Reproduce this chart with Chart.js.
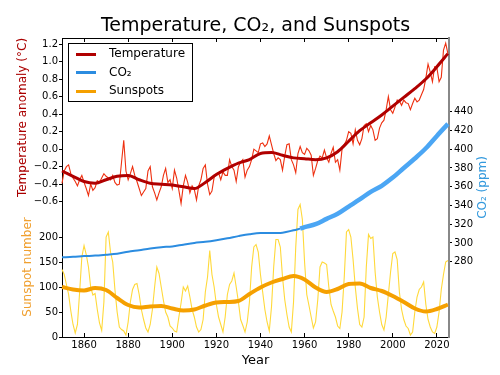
<!DOCTYPE html>
<html>
<head>
<meta charset="utf-8">
<script src="https://cdn.jsdelivr.net/npm/chart.js@4.4.1/dist/chart.umd.min.js"></script>
<style>
  html, body { margin: 0; padding: 0; background: #fff; }
  canvas { display: block; }
</style>
</head>
<body>
<canvas id="chart" width="500" height="375"></canvas>
<script>
// annual series start in 1850, one value per year
const firstYear = 1850;

// temperature anomaly (°C), 1850-2025
const tempAnomaly = [
  -0.39, -0.25, -0.20, -0.18, -0.28, -0.33, -0.37, -0.42, -0.35, -0.30,
  -0.38, -0.45, -0.53, -0.40, -0.47, -0.44, -0.36, -0.38, -0.33, -0.28,
  -0.31, -0.33, -0.35, -0.30, -0.38, -0.41, -0.40, -0.15, 0.10, -0.25,
  -0.35, -0.28, -0.20, -0.30, -0.37, -0.45, -0.53, -0.49, -0.45, -0.25,
  -0.20, -0.43, -0.50, -0.58, -0.50, -0.43, -0.30, -0.22, -0.38, -0.35,
  -0.45, -0.24, -0.33, -0.47, -0.62, -0.42, -0.30, -0.38, -0.50, -0.42,
  -0.46, -0.58, -0.42, -0.35, -0.22, -0.18, -0.40, -0.52, -0.48, -0.32,
  -0.28, -0.27, -0.35, -0.26, -0.30, -0.30, -0.12, -0.20, -0.24, -0.37,
  -0.20, -0.15, -0.12, -0.32, -0.24, -0.20, -0.12, 0.00, -0.02, -0.04,
  0.06, 0.07, 0.03, 0.06, 0.15, 0.05, -0.05, -0.13, -0.10, -0.12,
  -0.24, -0.08, 0.05, 0.06, -0.12, -0.18, -0.27, -0.05, 0.03, -0.04,
  -0.06, 0.01, -0.02, -0.07, -0.30, -0.22, -0.13, -0.08, -0.10, -0.01,
  -0.10, -0.15, -0.05, 0.02, -0.15, -0.12, -0.24, 0.00, 0.05, 0.10,
  0.20, 0.18, 0.06, 0.22, 0.10, 0.05, 0.12, 0.27, 0.29, 0.20,
  0.27, 0.22, 0.10, 0.12, 0.24, 0.30, 0.33, 0.45, 0.60, 0.45,
  0.41, 0.48, 0.56, 0.55, 0.50, 0.56, 0.53, 0.52, 0.45, 0.52,
  0.58, 0.54, 0.56, 0.62, 0.68, 0.81, 0.97, 0.88, 0.77, 0.94,
  0.93, 0.77, 0.82, 1.13, 1.21, 1.09
];

// yearly sunspot number, 1850-2025
const sunspots = [
  135, 125, 105, 85, 52, 25, 8, 25, 90, 160,
  183, 165, 140, 100, 84, 87, 55, 28, 13, 70,
  200, 210, 170, 150, 95, 50, 20, 15, 12, 4,
  30, 70, 95, 105, 107, 85, 55, 35, 18, 10,
  25, 55, 100, 140, 127, 100, 73, 50, 40, 22,
  18, 12, 10, 40, 68, 100, 92, 102, 80, 55,
  40, 20, 10, 15, 35, 90, 120, 173, 125, 100,
  65, 40, 25, 10, 40, 85, 105, 112, 128, 100,
  70, 35, 23, 10, 30, 70, 140, 180, 185, 170,
  125, 90, 55, 30, 12, 60, 140, 195, 195, 180,
  120, 75, 45, 20, 10, 70, 180, 255, 265, 235,
  150, 85, 63, 40, 18, 30, 75, 140, 150, 148,
  145, 100, 65, 52, 40, 22, 17, 50, 120, 210,
  215, 200, 155, 100, 57, 25, 20, 40, 140, 205,
  197, 200, 130, 80, 50, 25, 14, 40, 85, 130,
  167, 170, 155, 90, 55, 35, 22, 17, 4, 10,
  50, 80, 95, 100, 110, 65, 35, 20, 10, 7,
  20, 50, 95, 125, 150, 153
];

// smoothed curves, every 5 years
const smoothYears = [
  1850, 1855, 1860, 1865, 1870, 1875, 1880, 1885, 1890, 1895,
  1900, 1905, 1910, 1915, 1920, 1925, 1930, 1935, 1940, 1945,
  1950, 1955, 1960, 1965, 1970, 1975, 1980, 1985, 1990, 1995,
  2000, 2005, 2010, 2015, 2020, 2025
];
const tempSmooth = [
  -0.25, -0.31, -0.37, -0.39, -0.35, -0.31, -0.30, -0.35, -0.39, -0.40,
  -0.41, -0.43, -0.45, -0.38, -0.29, -0.22, -0.16, -0.12, -0.05, -0.04,
  -0.07, -0.10, -0.11, -0.12, -0.10, -0.03, 0.09, 0.21, 0.30, 0.39,
  0.49, 0.59, 0.69, 0.80, 0.94, 1.09
];
const sunSmooth = [
  100, 95, 93, 98, 94, 78, 64, 59, 61, 62,
  57, 53, 55, 63, 69, 70, 72, 86, 99, 109,
  116, 122, 115, 99, 90, 96, 106, 107, 98, 92,
  82, 70, 57, 51, 56, 65
];

// CO2 (ppm): ice core record, then Mauna Loa
const co2IceYears = [1850, 1855, 1860, 1865, 1870, 1875, 1880, 1885, 1890, 1895, 1900, 1905,
  1910, 1915, 1920, 1925, 1930, 1935, 1940, 1945, 1950, 1955, 1958];
const co2Ice = [284.7, 285.2, 286.0, 286.5, 287.5, 288.6, 290.6, 292.3, 294.1, 295.5, 296.3, 298.2,
  300.0, 301.3, 303.0, 305.0, 307.3, 309.3, 310.5, 310.5, 311.0, 313.5, 315.3];
const co2MaunaYears = [1958, 1960, 1965, 1970, 1975, 1980, 1985, 1990, 1995, 2000, 2005, 2010, 2015, 2020, 2025];
const co2Mauna = [315.3, 316.9, 320.0, 325.7, 331.1, 338.8, 346.4, 354.5, 361.0, 369.7, 380.0, 390.1, 401.0, 414.2, 427.0];

const yearTicks = [1860, 1880, 1900, 1920, 1940, 1960, 1980, 2000, 2020];
const tempTicks = [-0.6, -0.4, -0.2, 0.0, 0.2, 0.4, 0.6, 0.8, 1.0, 1.2];
const sunTicks = [0, 50, 100, 150, 200];
const co2Ticks = [280, 300, 320, 340, 360, 380, 400, 420, 440];

Chart.defaults.font.family = 'DejaVu Sans';
Chart.defaults.font.size = 10;
Chart.defaults.color = '#000';

function pairs(xs, ys) { return ys.map((y, i) => ({x: xs[i], y: y})); }
function annual(ys) { return ys.map((y, i) => ({x: firstYear + i, y: y})); }
function setTicks(list) { return axis => { axis.ticks = list.map(v => ({value: v})); }; }

// legend sample: a 20px line inside a 27px image, so the text sits further right
function swatch(color) {
  const c = document.createElement('canvas');
  c.width = 27; c.height = 3;
  const g = c.getContext('2d');
  g.fillStyle = color;
  g.fillRect(0, 0, 20, 3);
  return c;
}
const legendItems = [
  {text: 'Temperature', color: '#b00000'},
  {text: 'CO\u2082', color: '#2b8ce0'},
  {text: 'Sunspots', color: '#f5a000'}
];

const extras = {
  id: 'extras',
  afterLayout(chart) {
    const lg = chart.legend, ca = chart.chartArea;
    lg.left = ca.left + 7.5;
    lg.top = ca.top + 3.5;
  },
  afterDraw(chart) {
    const ctx = chart.ctx, lg = chart.legend, s = chart.scales.yC;
    ctx.save();
    ctx.strokeStyle = '#000';
    ctx.lineWidth = 1;
    ctx.strokeRect(Math.round(lg.left) - 1.5, Math.round(lg.top) + 1.5, 124, 58);
    // right axis title reads bottom to top
    ctx.translate(s.right - 17, (s.top + s.bottom) / 2);
    ctx.rotate(-Math.PI / 2);
    ctx.fillStyle = '#3399dd';
    ctx.font = '12px "DejaVu Sans"';
    ctx.textAlign = 'center';
    ctx.textBaseline = 'middle';
    ctx.fillText('CO\u2082 (ppm)', 0, 0);
    ctx.restore();
  }
};

const tempFmt = v => (v < 0 ? '\u2212' : '') + Math.abs(v).toFixed(1);

new Chart('chart', {
  type: 'line',
  data: {
    datasets: [
      {label: 'Temperature', data: pairs(smoothYears, tempSmooth), yAxisID: 'yT',
        borderColor: '#b00000', borderWidth: 3, cubicInterpolationMode: 'monotone'},
      {label: 'Temperature (annual)', data: annual(tempAnomaly), yAxisID: 'yT',
        borderColor: '#ee3010', borderWidth: 1.1},
      {label: 'CO\u2082 (Mauna Loa)', data: pairs(co2MaunaYears, co2Mauna), yAxisID: 'yC',
        borderColor: '#4ba6f4', borderWidth: 4.5, cubicInterpolationMode: 'monotone'},
      {label: 'CO\u2082', data: pairs(co2IceYears, co2Ice), yAxisID: 'yC',
        borderColor: '#2b8ce0', borderWidth: 2, cubicInterpolationMode: 'monotone'},
      {label: 'Sunspots', data: pairs(smoothYears, sunSmooth), yAxisID: 'yS',
        borderColor: '#f5a000', borderWidth: 4, cubicInterpolationMode: 'monotone'},
      {label: 'Sunspots (annual)', data: annual(sunspots), yAxisID: 'yS',
        borderColor: '#ffd93a', borderWidth: 1.1}
    ].map(d => Object.assign({xAxisID: 'x', fill: false, pointRadius: 0, clip: false}, d))
  },
  options: {
    responsive: false,
    animation: false,
    events: [],
    layout: {padding: 0},
    plugins: {
      title: {
        display: true, text: 'Temperature, CO\u2082, and Sunspots', fullSize: false,
        font: {size: 19, weight: 'normal'}, color: '#000', padding: {top: 15, bottom: 0.2}
      },
      legend: {
        position: 'chartArea', align: 'start',
        labels: {
          usePointStyle: true, pointStyleWidth: 27, padding: 6.5,
          font: {size: 12}, color: '#000',
          generateLabels: () => legendItems.map((it, i) => ({
            text: it.text, pointStyle: swatch(it.color), fillStyle: it.color,
            strokeStyle: it.color, lineWidth: 0, hidden: false, datasetIndex: i
          }))
        }
      },
      tooltip: {enabled: false}
    },
    scales: {
      x: {
        type: 'linear', position: 'bottom', min: 1850, max: 2025.5,
        afterBuildTicks: setTicks(yearTicks),
        afterFit: a => { a.height = 38; },
        ticks: {padding: 6.5, maxRotation: 0, autoSkip: false, callback: v => String(v)},
        grid: {drawOnChartArea: false, tickLength: -4, color: '#000'},
        border: {color: '#000'},
        title: {display: true, text: 'Year', font: {size: 13}, padding: {top: 0, bottom: 6.7}}
      },
      xTop: {
        type: 'linear', position: 'top', min: 1850, max: 2025.5,
        afterBuildTicks: setTicks(yearTicks),
        afterFit: a => { a.height = 0; },
        ticks: {display: false},
        grid: {drawOnChartArea: false, tickLength: -4, color: '#000'},
        border: {color: '#000'}
      },
      yT: {
        type: 'linear', position: 'left', stack: 'left', stackWeight: 159, weight: 1,
        min: -0.5466, max: 1.2685,
        afterBuildTicks: setTicks(tempTicks),
        afterFit: a => { a.width = 62; },
        ticks: {padding: 1, autoSkip: false, callback: tempFmt},
        grid: {drawOnChartArea: false, tickLength: 3, color: '#000'},
        border: {color: '#000'},
        title: {display: true, text: 'Temperature anomaly (\u00b0C)', color: '#aa0000',
          font: {size: 12}, padding: {top: 15.8, bottom: 0}}
      },
      yS: {
        type: 'linear', position: 'left', stack: 'left', stackWeight: 140, weight: 0,
        min: 0, max: 280,
        afterBuildTicks: setTicks(sunTicks),
        afterFit: a => { a.width = 62; },
        ticks: {padding: 1, autoSkip: false, callback: v => String(v)},
        grid: {drawOnChartArea: false, tickLength: 3, color: '#000'},
        border: {color: '#000'},
        title: {display: true, text: 'Sunspot number', color: '#f0a030',
          font: {size: 12}, padding: {top: 20.8, bottom: 0}}
      },
      yC: {
        type: 'linear', position: 'right', min: 199.7, max: 518.6,
        afterBuildTicks: setTicks(co2Ticks),
        afterFit: a => { a.width = 51; },
        ticks: {padding: 2, autoSkip: false, callback: v => String(v)},
        grid: {drawOnChartArea: false, tickLength: 3, color: '#000'},
        border: {color: '#888', width: 2}
      }
    }
  },
  plugins: [extras]
});
</script>
</body>
</html>
